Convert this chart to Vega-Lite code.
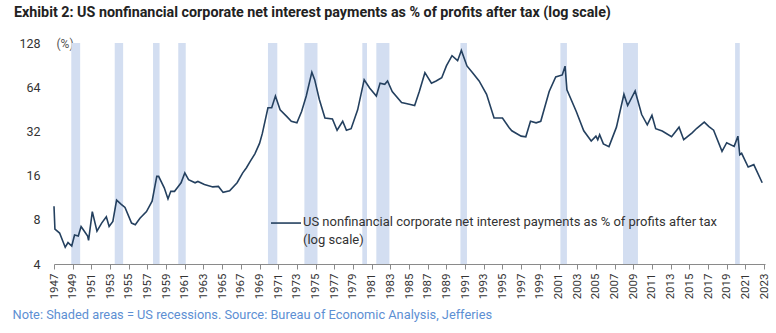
{
  "$schema": "https://vega.github.io/schema/vega-lite/v6.json",
  "autosize": "none",
  "width": 711,
  "height": 221,
  "padding": {"left": 54, "top": 43, "right": 11, "bottom": 69},
  "background": "white",
  "config": {
    "font": "Roboto",
    "view": {"stroke": null},
    "style": {"guide-label": {"lineHeight": 18}}
  },
  "title": {
    "text": "Exhibit 2: US nonfinancial corporate net interest payments as % of profits after tax (log scale)",
    "anchor": "start",
    "frame": "group",
    "dx": -40,
    "offset": 17,
    "fontSize": 14.3,
    "fontWeight": "bold",
    "color": "#222222",
    "font": "Roboto"
  },
  "datasets": {
    "rec": [
      {"start": 1948.85, "end": 1949.8},
      {"start": 1953.5, "end": 1954.4},
      {"start": 1957.6, "end": 1958.3},
      {"start": 1960.3, "end": 1961.1},
      {"start": 1969.9, "end": 1970.9},
      {"start": 1973.8, "end": 1975.2},
      {"start": 1980.0, "end": 1980.5},
      {"start": 1981.5, "end": 1982.9},
      {"start": 1990.5, "end": 1991.2},
      {"start": 2001.2, "end": 2001.9},
      {"start": 2007.9, "end": 2009.5},
      {"start": 2019.9, "end": 2020.4}
    ],
    "line": [
      {"year": 1947.0, "value": 9.9},
      {"year": 1947.1, "value": 6.9},
      {"year": 1947.6, "value": 6.5},
      {"year": 1948.0, "value": 5.6},
      {"year": 1948.2, "value": 5.2},
      {"year": 1948.5, "value": 5.6},
      {"year": 1948.9, "value": 5.3},
      {"year": 1949.2, "value": 6.3},
      {"year": 1949.6, "value": 6.2},
      {"year": 1949.9, "value": 7.2},
      {"year": 1950.1, "value": 6.9},
      {"year": 1950.6, "value": 6.2},
      {"year": 1950.7, "value": 5.8},
      {"year": 1951.1, "value": 9.1},
      {"year": 1951.6, "value": 6.7},
      {"year": 1952.1, "value": 7.6},
      {"year": 1952.6, "value": 8.4},
      {"year": 1952.9, "value": 7.2},
      {"year": 1953.3, "value": 7.8},
      {"year": 1953.7, "value": 10.9},
      {"year": 1954.2, "value": 10.2},
      {"year": 1954.6, "value": 9.7},
      {"year": 1955.3, "value": 7.6},
      {"year": 1955.7, "value": 7.4},
      {"year": 1956.2, "value": 8.2},
      {"year": 1956.9, "value": 9.1},
      {"year": 1957.5, "value": 10.7},
      {"year": 1958.0, "value": 15.8},
      {"year": 1958.2, "value": 15.8},
      {"year": 1958.8, "value": 13.2},
      {"year": 1959.2, "value": 11.1},
      {"year": 1959.5, "value": 12.5},
      {"year": 1959.9, "value": 12.5},
      {"year": 1960.3, "value": 13.5},
      {"year": 1960.6, "value": 14.3},
      {"year": 1961.0, "value": 16.7},
      {"year": 1961.4, "value": 15.0},
      {"year": 1962.1, "value": 14.3},
      {"year": 1962.4, "value": 14.6},
      {"year": 1963.1, "value": 13.9},
      {"year": 1964.0, "value": 13.4},
      {"year": 1964.6, "value": 13.5},
      {"year": 1965.1, "value": 12.3},
      {"year": 1965.8, "value": 12.6},
      {"year": 1966.6, "value": 14.3},
      {"year": 1967.2, "value": 16.7},
      {"year": 1967.6, "value": 18.1},
      {"year": 1968.0, "value": 20.0},
      {"year": 1968.5, "value": 22.5},
      {"year": 1969.0, "value": 26.5},
      {"year": 1969.3, "value": 31.0},
      {"year": 1969.9, "value": 46.4},
      {"year": 1970.3, "value": 46.4},
      {"year": 1970.7, "value": 55.7},
      {"year": 1971.2, "value": 44.9},
      {"year": 1971.9, "value": 40.5},
      {"year": 1972.4, "value": 37.5},
      {"year": 1973.0, "value": 36.6},
      {"year": 1973.5, "value": 43.7},
      {"year": 1974.0, "value": 55.7},
      {"year": 1974.6, "value": 81.0},
      {"year": 1974.9, "value": 72.0},
      {"year": 1975.4, "value": 52.8},
      {"year": 1976.0, "value": 39.5},
      {"year": 1976.8, "value": 38.9},
      {"year": 1977.3, "value": 32.6},
      {"year": 1977.9, "value": 37.5},
      {"year": 1978.3, "value": 32.6},
      {"year": 1978.8, "value": 33.4},
      {"year": 1979.5, "value": 44.9},
      {"year": 1980.2, "value": 72.0},
      {"year": 1980.8, "value": 62.9},
      {"year": 1981.5, "value": 55.7},
      {"year": 1981.9, "value": 68.2},
      {"year": 1982.4, "value": 66.9},
      {"year": 1982.7, "value": 70.6},
      {"year": 1983.2, "value": 59.8},
      {"year": 1984.2, "value": 50.3},
      {"year": 1984.8, "value": 49.4},
      {"year": 1985.6, "value": 48.0},
      {"year": 1986.1, "value": 59.8},
      {"year": 1986.7, "value": 80.4},
      {"year": 1987.4, "value": 68.2},
      {"year": 1987.9, "value": 70.6},
      {"year": 1988.5, "value": 74.2},
      {"year": 1989.0, "value": 89.3},
      {"year": 1989.6, "value": 104.9},
      {"year": 1990.2, "value": 97.0},
      {"year": 1990.6, "value": 114.0},
      {"year": 1991.2, "value": 89.3},
      {"year": 1991.8, "value": 80.4},
      {"year": 1992.5, "value": 70.6},
      {"year": 1993.3, "value": 57.3},
      {"year": 1994.1, "value": 39.5},
      {"year": 1995.0, "value": 39.5},
      {"year": 1995.7, "value": 34.0},
      {"year": 1996.0, "value": 32.3},
      {"year": 1997.0, "value": 29.7},
      {"year": 1997.5, "value": 29.4},
      {"year": 1998.0, "value": 37.5},
      {"year": 1998.6, "value": 36.6},
      {"year": 1999.1, "value": 37.5},
      {"year": 2000.0, "value": 59.8},
      {"year": 2000.7, "value": 75.2},
      {"year": 2001.4, "value": 77.6},
      {"year": 2001.7, "value": 89.0},
      {"year": 2001.9, "value": 61.5},
      {"year": 2002.9, "value": 43.7},
      {"year": 2003.7, "value": 32.3},
      {"year": 2004.5, "value": 27.5},
      {"year": 2005.0, "value": 29.7},
      {"year": 2005.2, "value": 28.1},
      {"year": 2005.4, "value": 30.4},
      {"year": 2005.8, "value": 26.3},
      {"year": 2006.4, "value": 25.2},
      {"year": 2007.2, "value": 34.2},
      {"year": 2008.0, "value": 57.3},
      {"year": 2008.4, "value": 48.0},
      {"year": 2009.2, "value": 60.3},
      {"year": 2009.9, "value": 41.7},
      {"year": 2010.5, "value": 35.5},
      {"year": 2011.0, "value": 41.2},
      {"year": 2011.4, "value": 33.4},
      {"year": 2012.1, "value": 32.2},
      {"year": 2013.1, "value": 29.4},
      {"year": 2013.9, "value": 34.2},
      {"year": 2014.4, "value": 28.1},
      {"year": 2015.3, "value": 31.3},
      {"year": 2015.8, "value": 33.6},
      {"year": 2016.6, "value": 37.0},
      {"year": 2017.1, "value": 34.5},
      {"year": 2017.6, "value": 32.6},
      {"year": 2018.5, "value": 23.4},
      {"year": 2019.0, "value": 26.8},
      {"year": 2019.8, "value": 25.3},
      {"year": 2020.2, "value": 29.7},
      {"year": 2020.4, "value": 22.2},
      {"year": 2020.6, "value": 22.7},
      {"year": 2021.3, "value": 18.3},
      {"year": 2021.9, "value": 19.0},
      {"year": 2022.8, "value": 14.3}
    ]
  },
  "layer": [
    {
      "data": {"name": "rec"},
      "mark": {"type": "rect", "color": "#d3def1"},
      "encoding": {
        "x": {
          "field": "start",
          "type": "quantitative",
          "axis": {
            "values": [1947,1949,1951,1953,1955,1957,1959,1961,1963,1965,1967,1969,1971,1973,1975,1977,1979,1981,1983,1985,1987,1989,1991,1993,1995,1997,1999,2001,2003,2005,2007,2009,2011,2013,2015,2017,2019,2021,2023],
            "format": "d",
            "labelAngle": -90,
            "labelFontSize": 11.5,
            "labelColor": "#333333",
            "labelPadding": 4,
            "tickColor": "#8a8a8a",
            "tickSize": 5,
            "domainColor": "#8a8a8a",
            "grid": false,
            "labelFlush": false,
            "labelOverlap": false,
            "labelBound": false,
            "title": "Note: Shaded areas = US recessions.  Source: Bureau of Economic Analysis, Jefferies",
            "titleX": -42,
            "titleY": 50,
            "titleAlign": "left",
            "titleAnchor": null,
            "titleBaseline": "middle",
            "titleColor": "#5d8fd3",
            "titleFontWeight": "normal",
            "titleFontSize": 12.8
          }
        },
        "x2": {"field": "end"}
      }
    },
    {
      "data": {"name": "line"},
      "mark": {"type": "line", "strokeWidth": 1.6, "interpolate": "linear"},
      "encoding": {
        "x": {
          "field": "year",
          "type": "quantitative",
          "scale": {"domain": [1947, 2023.1], "nice": false, "zero": false},
          "axis": {
            "values": [1947,1949,1951,1953,1955,1957,1959,1961,1963,1965,1967,1969,1971,1973,1975,1977,1979,1981,1983,1985,1987,1989,1991,1993,1995,1997,1999,2001,2003,2005,2007,2009,2011,2013,2015,2017,2019,2021,2023],
            "format": "d",
            "labelAngle": -90,
            "labelFontSize": 11.5,
            "labelColor": "#333333",
            "labelPadding": 4,
            "tickColor": "#8a8a8a",
            "tickSize": 5,
            "domainColor": "#8a8a8a",
            "grid": false,
            "labelFlush": false,
            "labelOverlap": false,
            "labelBound": false,
            "title": "Note: Shaded areas = US recessions.  Source: Bureau of Economic Analysis, Jefferies",
            "titleX": -42,
            "titleY": 50,
            "titleAlign": "left",
            "titleAnchor": null,
            "titleBaseline": "middle",
            "titleColor": "#5d8fd3",
            "titleFontWeight": "normal",
            "titleFontSize": 12.8
          }
        },
        "y": {
          "field": "value",
          "type": "quantitative",
          "scale": {"type": "log", "base": 2, "domain": [4, 128], "nice": false},
          "axis": {
            "values": [4, 8, 16, 32, 64, 128],
            "format": "d",
            "domain": false,
            "ticks": false,
            "grid": false,
            "labelFontSize": 12.5,
            "labelColor": "#333333",
            "labelPadding": 14,
            "title": "(%)",
            "titleAngle": 0,
            "titleX": 2,
            "titleY": 0,
            "titleAlign": "left",
            "titleBaseline": "middle",
            "titleFontWeight": "normal",
            "titleFontSize": 12,
            "titleColor": "#555555"
          }
        },
        "color": {
          "datum": "US nonfinancial corporate net interest payments as % of profits after tax (log scale)",
          "type": "nominal",
          "scale": {"range": ["#24405f"]},
          "legend": {
            "title": null,
            "orient": "none",
            "legendX": 216,
            "legendY": 157,
            "symbolType": "M-1,0.47L1,0.47",
            "symbolSize": 900,
            "symbolStrokeWidth": 1.6,
            "labelExpr": "['US nonfinancial corporate net interest payments as % of profits after tax', '(log scale)']",
            "labelFontSize": 13,
            "labelColor": "#333333",
            "labelLimit": 0,
            "labelOffset": 1,
            "labelBaseline": "top"
          }
        }
      }
    }
  ]
}
